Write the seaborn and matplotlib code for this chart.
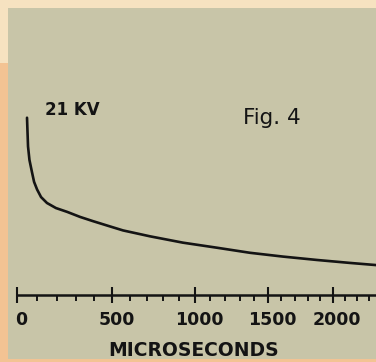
import numpy as np
import pandas as pd
import matplotlib
matplotlib.use("Agg")
import matplotlib.pyplot as plt
from matplotlib.patches import Rectangle
from matplotlib.ticker import FixedLocator, NullFormatter
from matplotlib.transforms import ScaledTranslation
import seaborn as sns

# Decay of the pulse voltage after switching (time in microseconds, voltage in kV)
time_us = [49, 51, 54, 61, 74, 84, 99, 119, 149, 195, 253, 322, 392, 475,
           561, 720, 923, 1145, 1372, 1612, 1872, 2139, 2400]
voltage_kv = [21.0, 19.6, 17.6, 16.0, 14.5, 13.4, 12.5, 11.6, 10.9, 10.3, 9.85,
              9.25, 8.75, 8.2, 7.65, 6.95, 6.2, 5.6, 5.0, 4.55, 4.15, 3.8, 3.5]

major_ticks = [0, 500, 1000, 1500, 2000]
major_labels = ["0", "500", "1000", "1500", "2000"]
minor_ticks = list(range(0, 2400, 100))

df = pd.DataFrame({"time": time_us, "kv": voltage_kv})

sns.set_style("white")
plt.rcParams["font.family"] = ["DejaVu Sans"]

W, H, DPI = 376, 362, 100
fig = plt.figure(figsize=(W / DPI, H / DPI), dpi=DPI)
fig.patch.set_facecolor("#f3c393")

# mounting card and panel
fig.patches.append(Rectangle((0, 1 - 63 / H), 1, 63 / H, transform=fig.transFigure,
                             facecolor="#f6e2c0", edgecolor="none", zorder=0))
fig.patches.append(Rectangle((8 / W, 3 / H), 1 - 8 / W, 1 - 11 / H,
                             transform=fig.transFigure,
                             facecolor="#c8c5a8", edgecolor="none", zorder=0.5))

ax = fig.add_axes([0, (H - 295) / H, 1, (295 - 8) / H])
ax.set_zorder(5)
ax.patch.set_visible(False)

ink = "#141414"
sns.lineplot(data=df, x="time", y="kv", ax=ax, color=ink, linewidth=1.9,
             solid_capstyle="round", solid_joinstyle="round")

# compressed sweep: time axis runs as log(1 + t/3000)
ax.set_xscale("function", functions=(lambda t: np.log1p(np.asarray(t) / 3000.0),
                                     lambda u: 3000.0 * np.expm1(np.asarray(u))))
ax.set_xlim(-81.3, 2360)
ax.set_ylim(0, 34.0)

for side in ["left", "right", "top"]:
    ax.spines[side].set_visible(False)
ax.spines["bottom"].set_color(ink)
ax.spines["bottom"].set_linewidth(1.8)
ax.spines["bottom"].set_bounds(0, 2360)

ax.xaxis.set_major_locator(FixedLocator(major_ticks))
ax.xaxis.set_minor_locator(FixedLocator(minor_ticks))
ax.set_xticklabels(major_labels)
ax.xaxis.set_minor_formatter(NullFormatter())
ax.tick_params(axis="x", which="major", bottom=True, direction="inout", length=11,
               width=1.5, color=ink, pad=6, labelsize=12.5, labelcolor=ink)
ax.tick_params(axis="x", which="minor", bottom=True, direction="out", length=4,
               width=1.4, color=ink)
ax.set_yticks([])
ax.set_xlabel("")
ax.set_ylabel("")
for lab in ax.get_xticklabels():
    lab.set_fontweight("bold")
    lab.set_transform(lab.get_transform() + ScaledTranslation(4 / DPI, 0, fig.dpi_scale_trans))

fig.text(194 / W, 6 / H, "MICROSECONDS", ha="center", va="baseline",
         fontsize=13.5, fontweight="bold", color=ink)
fig.text(45 / W, 1 - 115 / H, "21 KV", ha="left", va="baseline",
         fontsize=12, fontweight="bold", color=ink)
fig.text(243 / W, 1 - 124 / H, "Fig. 4", ha="left", va="baseline",
         fontsize=15.5, color=ink)

fig.savefig("out.png", dpi=DPI, facecolor=fig.get_facecolor())
